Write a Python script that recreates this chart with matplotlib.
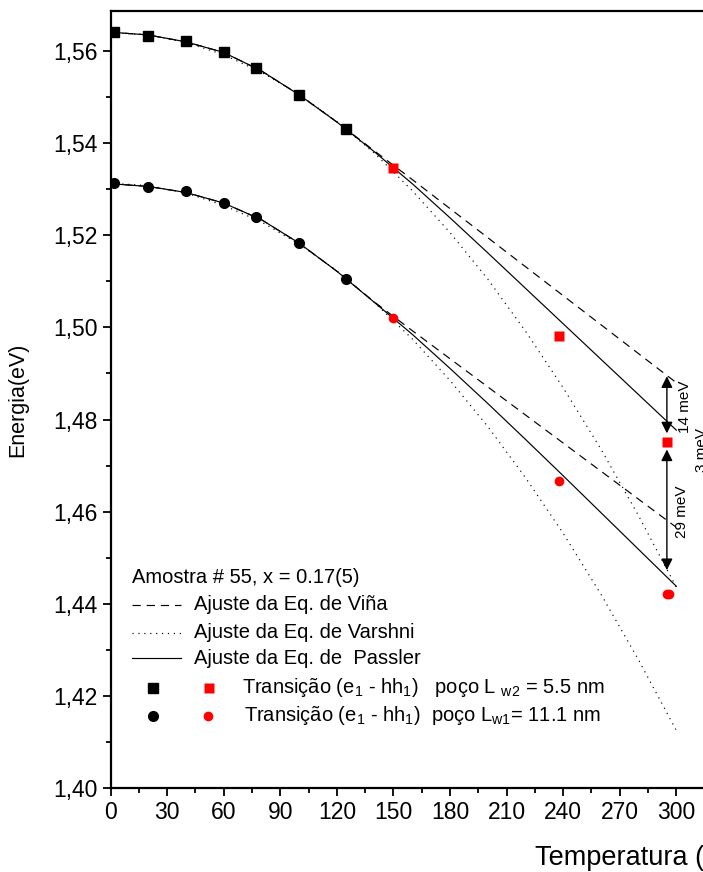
import matplotlib
matplotlib.use("Agg")
import matplotlib.pyplot as plt
from matplotlib.lines import Line2D
from matplotlib.ticker import MultipleLocator, FuncFormatter

plt.rcParams['font.family'] = ['Liberation Sans', 'DejaVu Sans']
plt.rcParams['mathtext.fontset'] = 'custom'
plt.rcParams['mathtext.rm'] = 'Liberation Sans'
plt.rcParams['mathtext.it'] = 'Liberation Sans'
plt.rcParams['mathtext.default'] = 'regular'

# measured transitions, well Lw2 = 5.5 nm (squares)
T_sq_black = [2, 20, 40, 60, 77, 100, 125]
E_sq_black = [1.5641, 1.5632, 1.5621, 1.5597, 1.5563, 1.5505, 1.5431]
T_sq_red = [150, 238, 295]
E_sq_red = [1.5347, 1.4981, 1.4752]

# measured transitions, well Lw1 = 11.1 nm (circles)
T_ci_black = [2, 20, 40, 60, 77, 100, 125]
E_ci_black = [1.5313, 1.5304, 1.5296, 1.5270, 1.5240, 1.5183, 1.5105]
T_ci_red = [150, 238, 295, 296]
E_ci_red = [1.5020, 1.4667, 1.4421, 1.4421]

# fit curves
T_fit = [0, 20, 40, 60, 80, 100, 120, 140, 160, 180, 200, 220, 240, 260, 280, 300]
vina_up = [1.5641, 1.5635, 1.5620, 1.5597, 1.5557, 1.5505, 1.5446, 1.5383, 1.5321, 1.5258,
           1.5195, 1.5132, 1.5069, 1.5006, 1.4943, 1.4880]
varshni_up = [1.5640, 1.5635, 1.5619, 1.5592, 1.5554, 1.5506, 1.5447, 1.5378, 1.5297, 1.5206,
              1.5105, 1.4992, 1.4869, 1.4736, 1.4591, 1.4436]
passler_up = [1.5641, 1.5635, 1.5620, 1.5597, 1.5557, 1.5505, 1.5446, 1.5381, 1.5312, 1.5238,
              1.5162, 1.5085, 1.5008, 1.4931, 1.4854, 1.4777]
vina_lo = [1.5312, 1.5306, 1.5293, 1.5270, 1.5234, 1.5183, 1.5122, 1.5055, 1.4993, 1.4932,
           1.4871, 1.4810, 1.4749, 1.4688, 1.4627, 1.4566]
varshni_lo = [1.5313, 1.5308, 1.5292, 1.5265, 1.5229, 1.5181, 1.5123, 1.5054, 1.4975, 1.4885,
              1.4785, 1.4674, 1.4553, 1.4421, 1.4278, 1.4125]
passler_lo = [1.5312, 1.5306, 1.5293, 1.5270, 1.5234, 1.5183, 1.5122, 1.5054, 1.4985, 1.4911,
              1.4835, 1.4757, 1.4678, 1.4598, 1.4518, 1.4438]

# energy-gap arrows at T = 295 K
arrow_T = 295
arrow_14 = (1.4894, 1.4770)
arrow_29 = (1.4735, 1.4473)

fig = plt.figure(figsize=(7.03, 8.72), dpi=100)
# axes is wider than the figure: the right side is cut like in the scan
ax = fig.add_axes([0.1572, 0.0963, 0.8585, 0.8911])

lw = 0.85
for y in (vina_up, vina_lo):
    ax.plot(T_fit, y, color='black', lw=lw, dashes=(7, 5))
for y in (varshni_up, varshni_lo):
    ax.plot(T_fit, y, color='black', lw=lw, dashes=(1, 4))
for y in (passler_up, passler_lo):
    ax.plot(T_fit, y, color='black', lw=lw)

ax.plot(T_sq_black, E_sq_black, 's', color='black', ms=7, zorder=5)
ax.plot(T_sq_red, E_sq_red, 's', color='red', ms=6.5, mec='none', zorder=5)
ax.plot(T_ci_black, E_ci_black, 'o', color='black', ms=7, zorder=5)
ax.plot(T_ci_red, E_ci_red, 'o', color='red', ms=7, mec='none', zorder=5)

for lo_hi in (arrow_14, arrow_29):
    ax.annotate('', xy=(arrow_T, lo_hi[1]), xytext=(arrow_T, lo_hi[0]),
                arrowprops=dict(arrowstyle='<|-|>', mutation_scale=17, lw=1,
                                color='black', shrinkA=0, shrinkB=0))
ax.text(304.6, 1.4827, '14 meV', rotation=90, fontsize=11, ha='center', va='center')
ax.text(303.0, 1.4600, '29 meV', rotation=90, fontsize=11, ha='center', va='center')
ax.text(313.6, 1.4734, '3 meV', rotation=90, fontsize=11, ha='center', va='center',
        clip_on=False)

ax.set_xlim(0, 320)
ax.set_ylim(1.40, 1.5687)
ax.xaxis.set_major_locator(MultipleLocator(30))
ax.xaxis.set_minor_locator(MultipleLocator(15))
ax.yaxis.set_major_locator(MultipleLocator(0.02))
ax.yaxis.set_minor_locator(MultipleLocator(0.01))
ax.yaxis.set_major_formatter(FuncFormatter(lambda v, p: f"{v:.2f}".replace('.', ',')))
ax.tick_params(which='both', direction='out', width=1.3, labelsize=16.5)
ax.tick_params(which='major', length=5.5, pad=4)
ax.tick_params(which='minor', length=3.5)
ax.tick_params(top=False, right=False)
for s in ax.spines.values():
    s.set_linewidth(1.6)

# legend drawn by hand (axes fraction)
tr = ax.transAxes
fs = 14.5
ax.text(0.036, 0.271, 'Amostra # 55, x = 0.17(5)', transform=tr, fontsize=fs, va='center')
rows = [(0.236, 'Ajuste da Eq. de Viña', (7, 5)),
        (0.200, 'Ajuste da Eq. de Varshni', (1, 4)),
        (0.167, 'Ajuste da Eq. de  Passler', None)]
for yy, label, d in rows:
    ln = Line2D([0.036, 0.117], [yy, yy], transform=tr, color='black', lw=lw)
    if d:
        ln.set_dashes(d)
    ax.add_line(ln)
    ax.text(0.138, yy, label, transform=tr, fontsize=fs, va='center')

ax.plot([0.070], [0.129], 's', color='black', ms=7, transform=tr)
ax.plot([0.163], [0.129], 's', color='red', ms=6.5, mec='none', transform=tr)
ax.text(0.218, 0.129, r'Transição (e$_1$ - hh$_1$)   poço L $_{w2}$ = 5.5 nm',
        transform=tr, fontsize=fs, va='center')
ax.plot([0.070], [0.093], 'o', color='black', ms=7, transform=tr)
ax.plot([0.161], [0.093], 'o', color='red', ms=7, mec='none', transform=tr)
ax.text(0.222, 0.093, r'Transição (e$_1$ - hh$_1$)  poço L$_{w1}$= 11.1 nm',
        transform=tr, fontsize=fs, va='center')

fig.text(18 / 703, 1 - 400 / 872, 'Energia(eV)', rotation=90, fontsize=15.5,
         ha='center', va='center')
fig.text(535 / 703, 1 - 858 / 872, 'Temperatura (K)', fontsize=19.5, ha='left', va='center')

fig.savefig('out.png', dpi=100)
